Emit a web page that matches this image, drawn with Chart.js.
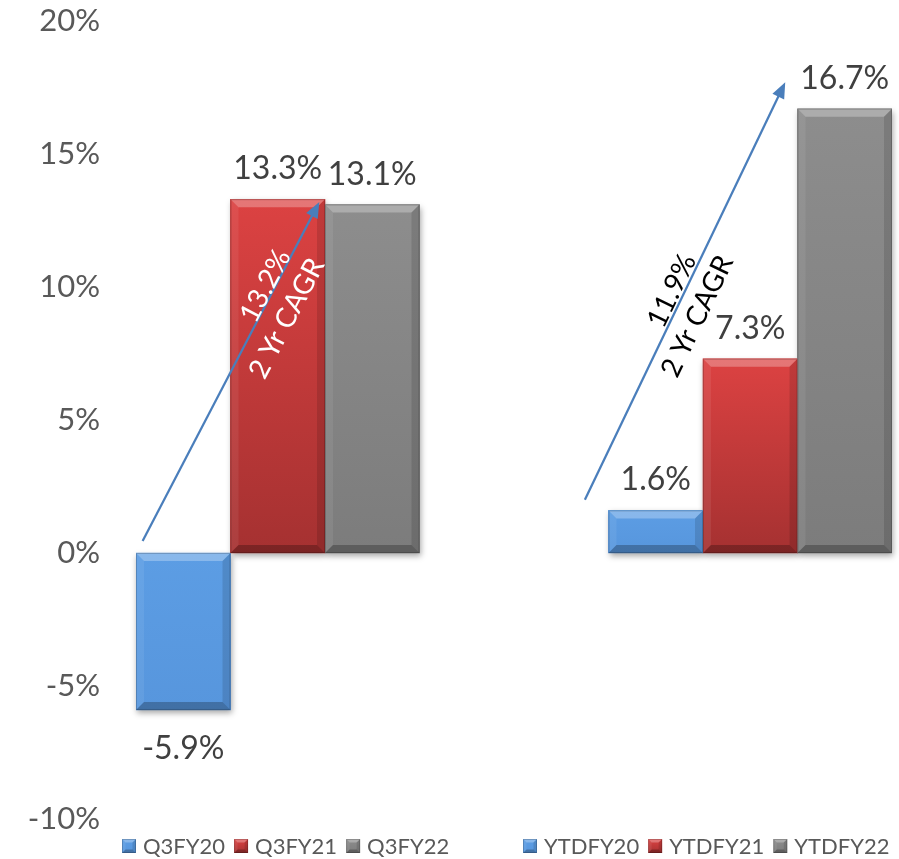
<!DOCTYPE html>
<html>
<head>
<meta charset="utf-8">
<script src="https://cdn.jsdelivr.net/npm/chart.js@4"></script>
<style>
  html, body { margin: 0; padding: 0; background: #fff; }
  #wrap { width: 899px; height: 859px; }
</style>
</head>
<body>
<div id="wrap"><canvas id="grafico"></canvas></div>
<script>
// ================= Dados =================
// 8 posições no eixo x (duas vazias separam os grupos)
const slots = ['Q3FY20', 'Q3FY21', 'Q3FY22', '', '', 'YTDFY20', 'YTDFY21', 'YTDFY22'];
const series = ['Q3FY20', 'Q3FY21', 'Q3FY22', 'YTDFY20', 'YTDFY21', 'YTDFY22'];
const seriesSlot = [0, 1, 2, 5, 6, 7];
const values = [-5.9, 13.3, 13.1, 1.6, 7.3, 16.7];
const yTicks = [-10, -5, 0, 5, 10, 15, 20];

// setas de CAGR, em unidades do gráfico: [índice x, valor %]
const cagrFrom = [[-0.43, 0.45], [4.25, 2.0]];
const cagrTo = [[1.44, 13.2], [6.37, 17.7]];
const cagrRate = ['13.2%', '11.9%'];
const cagrLabel = '2 Yr CAGR';

// ================= Estilo =================
const tones = [
  { top: '#5c9de4', bottom: '#5796dd' }, // azul
  { top: '#dc4242', bottom: '#a53131' }, // vermelho
  { top: '#8d8d8d', bottom: '#7c7c7c' }  // cinza
];
const FONT = 'Lato, "Open Sans", sans-serif';

function rectOf(el) {
  const w = el.width;
  return {
    l: el.x - w / 2,
    r: el.x + w / 2,
    t: Math.min(el.y, el.base),
    b: Math.max(el.y, el.base)
  };
}

// desenha a face chanfrada de uma barra (ou quadradinho da legenda)
function drawBevel(ctx, r, tone, bv) {
  const g = ctx.createLinearGradient(0, r.t, 0, r.b);
  g.addColorStop(0, tone.top);
  g.addColorStop(1, tone.bottom);
  ctx.fillStyle = g;
  ctx.fillRect(r.l, r.t, r.r - r.l, r.b - r.t);
  const poly = (pts, fill) => {
    ctx.beginPath();
    ctx.moveTo(pts[0][0], pts[0][1]);
    pts.slice(1).forEach(p => ctx.lineTo(p[0], p[1]));
    ctx.closePath();
    ctx.fillStyle = fill;
    ctx.fill();
  };
  poly([[r.l, r.t], [r.r, r.t], [r.r - bv, r.t + bv], [r.l + bv, r.t + bv]], 'rgba(255,255,255,0.28)');
  poly([[r.l, r.t], [r.l + bv, r.t + bv], [r.l + bv, r.b - bv], [r.l, r.b]], 'rgba(255,255,255,0.07)');
  poly([[r.r, r.t], [r.r, r.b], [r.r - bv, r.b - bv], [r.r - bv, r.t + bv]], 'rgba(0,0,0,0.12)');
  poly([[r.l, r.b], [r.r, r.b], [r.r - bv, r.b - bv], [r.l + bv, r.b - bv]], 'rgba(0,0,0,0.25)');
  ctx.strokeStyle = 'rgba(0,0,0,0.18)';
  ctx.lineWidth = 1;
  ctx.strokeRect(r.l + 0.5, r.t + 0.5, r.r - r.l - 1, r.b - r.t - 1);
}

// Plugin: barras com chanfro + sombra
const bevelPlugin = {
  id: 'bevel',
  afterDatasetsDraw(chart) {
    const ctx = chart.ctx;
    const bars = [];
    chart.data.datasets.forEach((ds, i) => {
      chart.getDatasetMeta(i).data.forEach((el, k) => {
        if (ds.data[k] == null) return;
        bars.push({ r: rectOf(el), tone: tones[i % 3] });
      });
    });
    ctx.save();
    ctx.shadowColor = 'rgba(0,0,0,0.35)';
    ctx.shadowBlur = 6;
    ctx.shadowOffsetX = 1;
    ctx.shadowOffsetY = 3;
    bars.forEach(b => {
      ctx.fillStyle = b.tone.bottom;
      ctx.fillRect(b.r.l, b.r.t, b.r.r - b.r.l, b.r.b - b.r.t);
    });
    ctx.restore();
    ctx.save();
    bars.forEach(b => drawBevel(ctx, b.r, b.tone, 8));
    ctx.restore();
  }
};

// Plugin: rótulos de valor
const labelPlugin = {
  id: 'valores',
  afterDatasetsDraw(chart) {
    const ctx = chart.ctx;
    ctx.save();
    ctx.font = '32px ' + FONT;
    ctx.fillStyle = '#404040';
    ctx.textAlign = 'center';
    ctx.textBaseline = 'alphabetic';
    chart.data.datasets.forEach((ds, i) => {
      chart.getDatasetMeta(i).data.forEach((el, k) => {
        const v = ds.data[k];
        if (v == null) return;
        const r = rectOf(el);
        const y = v >= 0 ? r.t - 20 : r.b + 49;
        ctx.fillText(v.toFixed(1) + '%', el.x, y);
      });
    });
    ctx.restore();
  }
};

// Plugin: setas de CAGR
const cagrPlugin = {
  id: 'cagr',
  afterDraw(chart, args, opts) {
    const ctx = chart.ctx;
    const xs = chart.scales.x, ys = chart.scales.y;
    ctx.save();
    cagrFrom.forEach((f, i) => {
      const x0 = xs.getPixelForValue(f[0]), y0 = ys.getPixelForValue(f[1]);
      const x1 = xs.getPixelForValue(cagrTo[i][0]), y1 = ys.getPixelForValue(cagrTo[i][1]);
      const ang = Math.atan2(y1 - y0, x1 - x0);
      const len = Math.hypot(x1 - x0, y1 - y0);
      ctx.save();
      ctx.translate(x0, y0);
      ctx.rotate(ang);
      ctx.strokeStyle = '#4a7ebb';
      ctx.fillStyle = '#4a7ebb';
      ctx.lineWidth = 2.25;
      ctx.beginPath();
      ctx.moveTo(0, 0);
      ctx.lineTo(len - 12, 0);
      ctx.stroke();
      ctx.beginPath();
      ctx.moveTo(len, 0);
      ctx.lineTo(len - 16, -6.5);
      ctx.lineTo(len - 16, 6.5);
      ctx.closePath();
      ctx.fill();
      const t = opts.text[i];
      ctx.font = '28px ' + FONT;
      ctx.fillStyle = t.color;
      ctx.textAlign = 'center';
      ctx.textBaseline = 'middle';
      ctx.fillText(cagrRate[i], t.along[0], t.perp[0]);
      ctx.fillText(cagrLabel, t.along[1], t.perp[1]);
      ctx.restore();
    });
    ctx.restore();
  }
};

// Plugin: legenda em dois grupos
const legendPlugin = {
  id: 'legenda2',
  afterDraw(chart, args, opts) {
    const ctx = chart.ctx;
    ctx.save();
    ctx.font = '22px ' + FONT;
    ctx.textBaseline = 'middle';
    ctx.textAlign = 'left';
    [[0, 1, 2], [3, 4, 5]].forEach((grupo, gi) => {
      let x = opts.start[gi];
      grupo.forEach(i => {
        const box = opts.box;
        const r = { l: x, r: x + box, t: opts.y - box / 2, b: opts.y + box / 2 };
        drawBevel(ctx, r, tones[i % 3], 3.5);
        x += box + opts.gap;
        ctx.fillStyle = '#595959';
        ctx.fillText(series[i], x, opts.y + 1);
        x += ctx.measureText(series[i]).width + opts.itemGap;
      });
    });
    ctx.restore();
  }
};

const datasets = series.map((nome, i) => ({
  label: nome,
  data: slots.map((_, k) => (k === seriesSlot[i] ? values[i] : null)),
  backgroundColor: tones[i % 3].top,
  borderWidth: 0,
  barPercentage: 1,
  categoryPercentage: 1
}));

new Chart(document.getElementById('grafico').getContext('2d'), {
  type: 'bar',
  data: { labels: slots, datasets },
  plugins: [bevelPlugin, labelPlugin, cagrPlugin, legendPlugin],
  options: {
    responsive: true,
    maintainAspectRatio: false,
    animation: false,
    layout: { padding: { top: 21, right: 7, bottom: 40, left: 0 } },
    plugins: {
      legend: { display: false },
      tooltip: { enabled: false },
      cagr: {
        text: [
          { along: [283, 264], perp: [-9, 25], color: '#ffffff' },
          { along: [226, 214], perp: [-12, 22], color: '#000000' }
        ]
      },
      legenda2: { start: [122, 523], y: 846, box: 14, gap: 7, itemGap: 9 }
    },
    scales: {
      x: {
        display: false,
        stacked: true
      },
      y: {
        stacked: true,
        min: -10,
        max: 20,
        afterBuildTicks: s => { s.ticks = yTicks.map(v => ({ value: v })); },
        afterFit: s => {
          s.width = 136;
          s.paddingTop = 0;
          s.paddingBottom = 0;
        },
        grid: { display: false, drawTicks: false },
        border: { display: false },
        ticks: {
          padding: 36,
          color: '#595959',
          font: { size: 31, family: FONT },
          callback: v => v + '%'
        }
      }
    }
  }
});
</script>
</body>
</html>
